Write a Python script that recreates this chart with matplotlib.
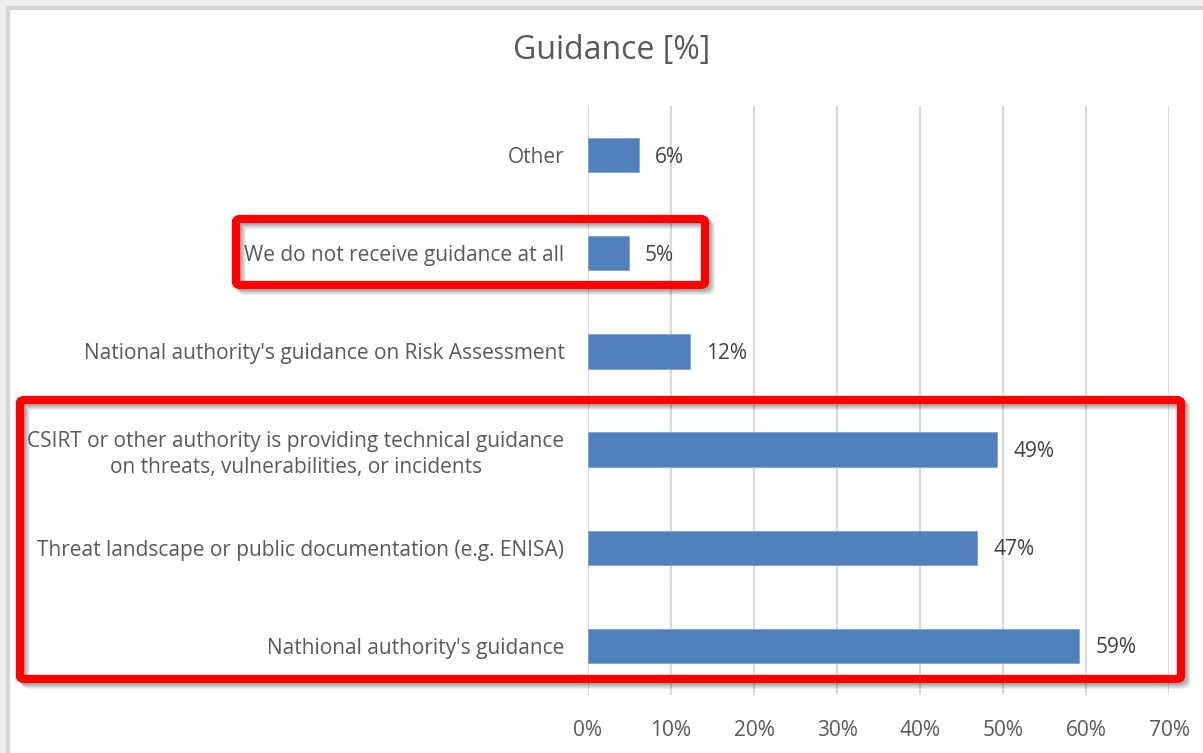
import matplotlib
matplotlib.use("Agg")
import matplotlib.pyplot as plt
from matplotlib.patches import Rectangle, FancyBboxPatch

plt.rcParams['font.family'] = ['Open Sans', 'DejaVu Sans']

categories = [
    "Nathional authority's guidance",
    "Threat landscape or public documentation (e.g. ENISA)",
    "CSIRT or other authority is providing technical guidance\non threats, vulnerabilities, or incidents",
    "National authority's guidance on Risk Assessment",
    "We do not receive guidance at all",
    "Other",
]
values = [59.2, 46.9, 49.3, 12.3, 4.9, 6.1]
ticks = [0, 10, 20, 30, 40, 50, 60, 70]

W, H = 1203, 753
fig = plt.figure(figsize=(W / 100, H / 100), dpi=100)
fig.patch.set_facecolor("#efefef")

# white chart area with grey border (cropped on right/bottom)
fig.patches.append(Rectangle((8 / W, -0.1), 1.2, 1 - 8 / H + 0.1, transform=fig.transFigure,
                             facecolor="white", edgecolor="#d6d6d6", linewidth=3, zorder=-5))

ax = fig.add_axes([588 / W, 1 - 695 / H, (1169 - 588) / W, (695 - 106) / H])
ax.set_facecolor("none")
ax.set_zorder(2)

y = range(len(categories))
ax.barh(y, values, height=0.35, color="#4f81bd", edgecolor="#7fa3d0", linewidth=0.6, zorder=3)

for yi, v in zip(y, values):
    ax.annotate(f"{round(v)}%", (v, yi), xytext=(16, -2), textcoords="offset pixels",
                va="center", ha="left", fontsize=15, color="#404040")

ax.set_xlim(0, 70)
ax.set_ylim(-0.5, 5.5)
ax.set_xticks(ticks)
ax.set_xticklabels([f"{t}%" for t in ticks])
ax.set_yticks(list(y))
ax.set_yticklabels(categories, multialignment="center", linespacing=1.3)
ax.tick_params(axis="both", length=0, labelsize=15, labelcolor="#595959")
ax.tick_params(axis="y", pad=17)
ax.tick_params(axis="x", pad=18)
ax.grid(axis="x", color="#d9d9d9", linewidth=1.5, zorder=0)
for s in ax.spines.values():
    s.set_visible(False)

fig.text(612 / W, 1 - 50 / H, "Guidance [%]", ha="center", va="center",
         fontsize=23, color="#595959")


# red highlight boxes with soft shadow (pixel positions from the picture)
def red_box(x0, y0, x1, y1):
    for k, a in [(6, 0.05), (5, 0.06), (4, 0.07), (3, 0.08), (2, 0.08)]:
        fig.patches.append(FancyBboxPatch((x0 / W + k / W, 1 - y1 / H - k / H), (x1 - x0) / W, (y1 - y0) / H,
                                          boxstyle="round,pad=0,rounding_size=0.004",
                                          transform=fig.transFigure, facecolor="none",
                                          edgecolor="black", alpha=a, linewidth=6, zorder=8))
    fig.patches.append(FancyBboxPatch((x0 / W, 1 - y1 / H), (x1 - x0) / W, (y1 - y0) / H,
                                      boxstyle="round,pad=0,rounding_size=0.004",
                                      transform=fig.transFigure, facecolor="none",
                                      edgecolor="#ff0000", linewidth=6, zorder=9))


red_box(236, 219, 705, 285)
red_box(20, 400, 1181, 679)

fig.savefig("out.png", dpi=100)
